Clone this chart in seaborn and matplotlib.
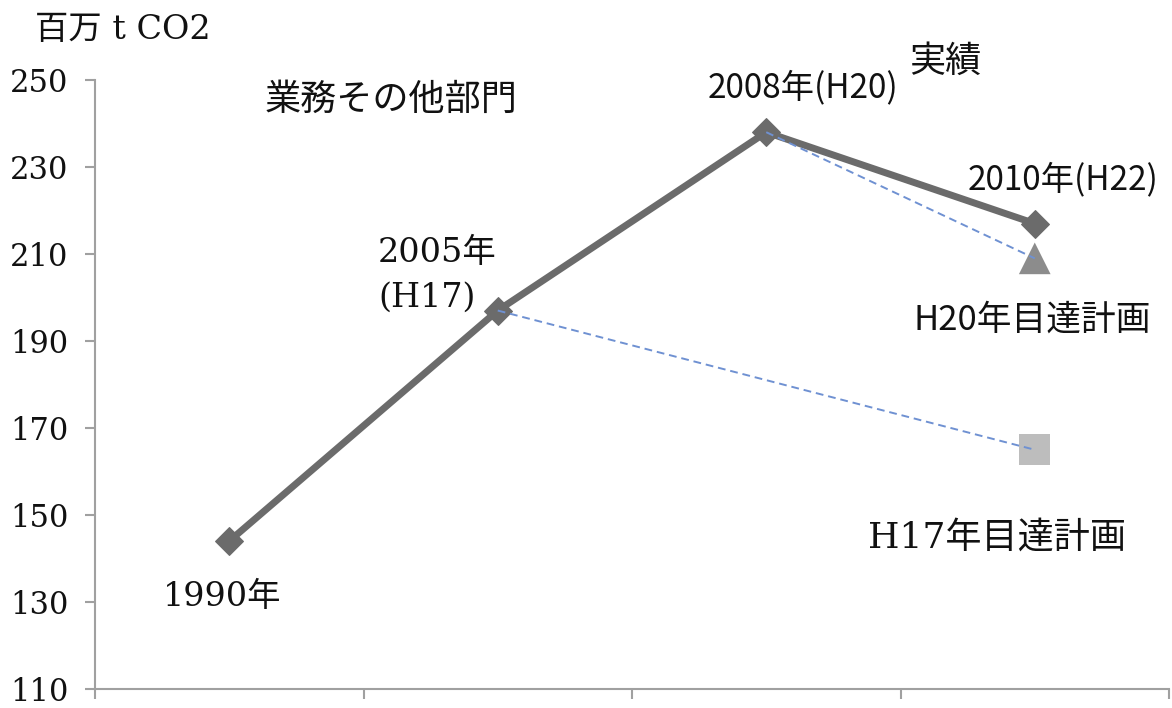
import matplotlib
matplotlib.use("Agg")
import matplotlib.pyplot as plt
import seaborn as sns
import pandas as pd

# ---- data ----
years = ["1990年", "2005年", "2008年", "2010年"]
actual = [144, 197, 238, 217]
plan_h17_years = ["2005年", "2010年"]
plan_h17 = [197, 165]
plan_h20_years = ["2008年", "2010年"]
plan_h20 = [238, 209]
yticks = [110, 130, 150, 170, 190, 210, 230, 250]

sns.set_style("white")
SERIF = ["DejaVu Serif", "Noto Sans CJK JP"]
SANS = ["Noto Sans CJK JP", "DejaVu Sans"]
plt.rcParams["font.family"] = SERIF

fig = plt.figure(figsize=(11.72, 7.08), dpi=100)
ax = fig.add_axes([95 / 1172, 19 / 708, 1074 / 1172, 609 / 708])

df_act = pd.DataFrame({"year": years, "value": actual})
df_h17 = pd.DataFrame({"year": plan_h17_years, "value": plan_h17})
df_h20 = pd.DataFrame({"year": plan_h20_years, "value": plan_h20})

main_c = "#6b6b6b"
blue = "#6f91d2"

sns.lineplot(data=df_act, x="year", y="value", ax=ax, color=main_c, linewidth=5,
             marker="D", markersize=14, markeredgecolor=main_c, zorder=3)
sns.scatterplot(data=df_h17.iloc[[1]], x="year", y="value", ax=ax, marker="s",
                s=500, color="#bdbdbd", edgecolor="none", zorder=4)
sns.scatterplot(data=df_h20.iloc[[1]], x="year", y="value", ax=ax, marker="^",
                s=520, color="#8c8c8c", edgecolor="none", zorder=4)
sns.lineplot(data=df_h17, x="year", y="value", ax=ax, color=blue, linewidth=1.4,
             linestyle=(0, (4, 2.5)), zorder=5)
sns.lineplot(data=df_h20, x="year", y="value", ax=ax, color=blue, linewidth=1.4,
             linestyle=(0, (4, 2.5)), zorder=5)

ax.set_xlim(-0.5, 3.5)
ax.set_ylim(110, 250)
ax.set_xticks([-0.5, 0.5, 1.5, 2.5, 3.5])
ax.set_xticklabels([])
ax.set_yticks(yticks)
ax.set_yticklabels([str(v) for v in yticks])
ax.set_xlabel("")
ax.set_ylabel("")

for s in ["top", "right"]:
    ax.spines[s].set_visible(False)
for s in ["left", "bottom"]:
    ax.spines[s].set_color("#a0a0a0")
    ax.spines[s].set_linewidth(1.5)
ax.tick_params(axis="both", direction="out", length=7, width=1.5, color="#a0a0a0",
               bottom=True, left=True)
ax.tick_params(axis="y", labelsize=22, pad=12, labelcolor="#111111")
for lab in ax.get_yticklabels():
    lab.set_family(SERIF)

txt = "#111111"
fig.text(35 / 1172, 1 - 30 / 708, "百万 t CO2", fontsize=24, family=SERIF,
         ha="left", va="center", color=txt)

def t(x, y, s, fam, size):
    ax.text(x, y, s, family=fam, fontsize=size, ha="left", va="center",
            color=txt, clip_on=False)

t(0.133, 245.4, "業務その他部門", SERIF, 26)
t(2.533, 254.1, "実績", SERIF, 26)
t(1.783, 248.2, "2008年(H20)", SANS, 24)
t(2.751, 227.0, "2010年(H22)", SANS, 24)
t(2.547, 194.8, "H20年目達計画", SANS, 25)
t(0.554, 210.2, "2005年", SERIF, 24)
t(0.554, 199.9, "(H17)", SERIF, 24)
t(-0.247, 131.1, "1990年", SERIF, 24)
t(2.379, 144.7, "H17年目達計画", SERIF, 26)

fig.savefig("out.png", dpi=100)
